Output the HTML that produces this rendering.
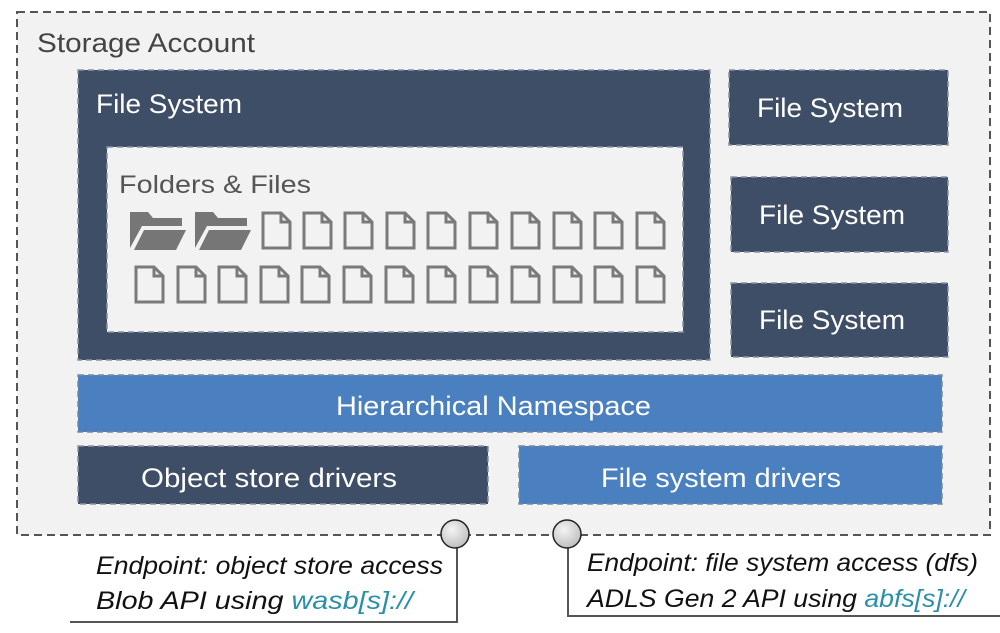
<!DOCTYPE html>
<html><head><meta charset="utf-8"><style>
body{margin:0;background:#fff;}
svg{display:block;font-family:"Liberation Sans",sans-serif;}
</style></head><body>
<svg width="1000" height="633" viewBox="0 0 1000 633" xmlns="http://www.w3.org/2000/svg">
<defs>
<g id="file"><path d="M0,0 H18 L27,9 V35 H0 Z M18,0 V9 H27" fill="none" stroke="#7a7a7a" stroke-width="3"/></g>
<g id="folder"><path d="M0,2 H18 L23,8 H52 V16 H12 L0,38 Z" fill="#767676"/><path d="M14,20 H56 L46,40 H4 Z" fill="#767676"/></g>
<radialGradient id="cg" cx="0.4" cy="0.35" r="0.7"><stop offset="0" stop-color="#f4f4f4"/><stop offset="1" stop-color="#bcbcbc"/></radialGradient>
</defs>
<rect x="17" y="12" width="973" height="523" fill="#f2f2f2" stroke="#555" stroke-width="2" stroke-dasharray="8,5"/>
<text x="37" y="52" font-size="27" fill="#444" textLength="218" lengthAdjust="spacingAndGlyphs">Storage Account</text>
<rect x="78" y="70" width="632" height="290" fill="#3e4e67" stroke="#8a93a3" stroke-width="1.5" stroke-dasharray="6,4"/>
<text x="96" y="113" font-size="27" fill="#fff" textLength="146" lengthAdjust="spacingAndGlyphs">File System</text>
<rect x="107" y="147" width="576" height="185" fill="#f2f2f2" stroke="#8a93a3" stroke-width="1.5" stroke-dasharray="6,4"/>
<text x="119" y="193" font-size="25" fill="#555" textLength="192" lengthAdjust="spacingAndGlyphs">Folders &amp; Files</text>
<use href="#folder" x="130" y="210"/><use href="#folder" x="195" y="210"/>
<g>
<use href="#file" x="263" y="213"/><use href="#file" x="304" y="213"/><use href="#file" x="345" y="213"/><use href="#file" x="387" y="213"/><use href="#file" x="428" y="213"/><use href="#file" x="470" y="213"/><use href="#file" x="512" y="213"/><use href="#file" x="554" y="213"/><use href="#file" x="595" y="213"/><use href="#file" x="637" y="213"/>
<use href="#file" x="136" y="267"/><use href="#file" x="178" y="267"/><use href="#file" x="219" y="267"/><use href="#file" x="261" y="267"/><use href="#file" x="302" y="267"/><use href="#file" x="344" y="267"/><use href="#file" x="386" y="267"/><use href="#file" x="428" y="267"/><use href="#file" x="470" y="267"/><use href="#file" x="512" y="267"/><use href="#file" x="554" y="267"/><use href="#file" x="595" y="267"/><use href="#file" x="637" y="267"/>
</g>
<rect x="729" y="70" width="219" height="75" fill="#3e4e67" stroke="#8a93a3" stroke-width="1.5" stroke-dasharray="6,4"/>
<text x="757" y="117" font-size="27" fill="#fff" textLength="146" lengthAdjust="spacingAndGlyphs">File System</text>
<rect x="731" y="177" width="217" height="75" fill="#3e4e67" stroke="#8a93a3" stroke-width="1.5" stroke-dasharray="6,4"/>
<text x="759" y="224" font-size="27" fill="#fff" textLength="146" lengthAdjust="spacingAndGlyphs">File System</text>
<rect x="731" y="283" width="217" height="74" fill="#3e4e67" stroke="#8a93a3" stroke-width="1.5" stroke-dasharray="6,4"/>
<text x="759" y="329" font-size="27" fill="#fff" textLength="146" lengthAdjust="spacingAndGlyphs">File System</text>
<rect x="78" y="375" width="864" height="57" fill="#4a7fc0" stroke="#7a8aa0" stroke-width="1.5" stroke-dasharray="6,4"/>
<text x="336" y="415" font-size="27" fill="#fff" textLength="315" lengthAdjust="spacingAndGlyphs">Hierarchical Namespace</text>
<rect x="78" y="446" width="410" height="58" fill="#3e4e67" stroke="#8a93a3" stroke-width="1.5" stroke-dasharray="6,4"/>
<text x="141" y="487" font-size="27" fill="#fff" textLength="256" lengthAdjust="spacingAndGlyphs">Object store drivers</text>
<rect x="519" y="446" width="423" height="58" fill="#4a7fc0" stroke="#7a8aa0" stroke-width="1.5" stroke-dasharray="6,4"/>
<text x="601" y="487" font-size="27" fill="#fff" textLength="240" lengthAdjust="spacingAndGlyphs">File system drivers</text>
<path d="M457,548 V622 H70" fill="none" stroke="#555" stroke-width="2"/>
<path d="M568,548 V616 H1000" fill="none" stroke="#555" stroke-width="2"/>
<circle cx="455" cy="534" r="14" fill="url(#cg)" stroke="#222" stroke-width="1.5"/>
<circle cx="567" cy="534" r="14" fill="url(#cg)" stroke="#222" stroke-width="1.5"/>
<g font-style="italic" font-size="25" fill="#111">
<text x="96" y="574" textLength="347" lengthAdjust="spacingAndGlyphs">Endpoint: object store access</text>
<text x="96" y="609" textLength="317" lengthAdjust="spacingAndGlyphs">Blob API using <tspan fill="#2a8fa8">wasb[s]://</tspan></text>
<text x="587" y="571" textLength="391" lengthAdjust="spacingAndGlyphs">Endpoint: file system access (dfs)</text>
<text x="587" y="607" textLength="378" lengthAdjust="spacingAndGlyphs">ADLS Gen 2 API using <tspan fill="#2a8fa8">abfs[s]://</tspan></text>
</g>
</svg>
</body></html>
